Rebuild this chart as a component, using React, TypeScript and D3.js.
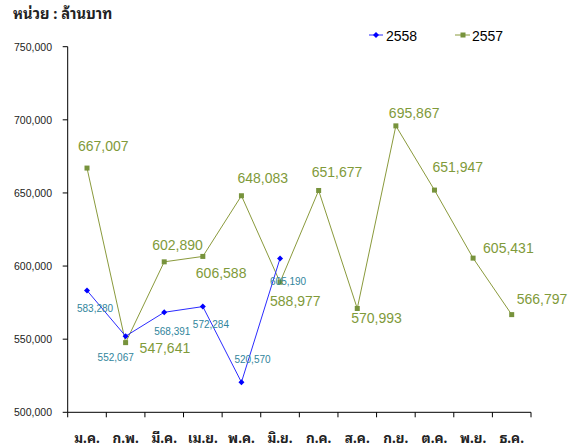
import React from "react";
import * as d3 from "d3";

const months = ["ม.ค.", "ก.พ.", "มี.ค.", "เม.ย.", "พ.ค.", "มิ.ย.", "ก.ค.", "ส.ค.", "ก.ย.", "ต.ค.", "พ.ย.", "ธ.ค."];
const values2558 = [583280, 552067, 568391, 572284, 520570, 605190];
const values2557 = [667007, 547641, 602890, 606588, 648083, 588977, 651677, 570993, 695867, 651947, 605431, 566797];
const yTicks = [500000, 550000, 600000, 650000, 700000, 750000];
const title = "หน่วย : ล้านบาท";
const seriesNames = ["2558", "2557"];

// label offsets (dx, dy) relative to each marker
const off2557: [number, number][] = [[-9, -17], [14, 10], [-12, -12], [-7, 22], [-4, -13], [-10, 24], [-7, -13], [-6, 15], [-7, -8], [-2, -18], [10, -5], [5, -11]];
const off2558: [number, number][] = [[-10, 21], [-28, 25], [-10, 23], [-10, 21], [-7, -19], [-10, 27]];

const W = 575, H = 448;
const x0 = 67.7, x1 = 531, yTop = 46.7, yBot = 412.3;
const blue = "#2b2bff";
const olive = "#8a9a3c";
const oliveMark = "#77933c";
const oliveText = "#7f9a3a";
const teal = "#31859c";
const font = "'Liberation Sans', Arial, sans-serif";
const thaiFont = "Tahoma, 'Noto Sans Thai Looped', 'Noto Sans Thai', 'Noto Sans', 'DejaVu Sans', sans-serif";
const fmt = d3.format(",");

export default function App() {
  const x = d3.scaleBand<string>().domain(months).range([x0, x1]).padding(0);
  const y = d3.scaleLinear().domain([500000, 750000]).range([yBot, yTop]);
  const cx = (i: number) => (x(months[i]) as number) + x.bandwidth() / 2;
  const line = d3.line<number>().x((_, i) => cx(i)).y((d) => y(d));
  const diamond = (px: number, py: number, r = 3) => `M${px},${py - r}L${px + r},${py}L${px},${py + r}L${px - r},${py}Z`;
  const bounds = [...months.map((m) => x(m) as number), x1];

  return (
    <svg width={W} height={H} style={{ position: "absolute", left: 0, top: 0, background: "#fff" }}>
      <text x={13} y={19} fontFamily={thaiFont} fontWeight="bold" fontSize={14.7} fill="#222">{title}</text>
      {/* y axis */}
      <line x1={x0} x2={x0} y1={yTop} y2={yBot} stroke="#000" strokeWidth={1} />
      {yTicks.map((t) => (
        <g key={t}>
          <line x1={x0 - 5} x2={x0} y1={y(t)} y2={y(t)} stroke="#000" />
          <text x={52} y={y(t) + 4} textAnchor="end" fontFamily={font} fontSize={10.5} fill="#222">{fmt(t)}</text>
        </g>
      ))}
      {/* x axis */}
      <line x1={x0} x2={x1} y1={yBot} y2={yBot} stroke="#000" />
      {bounds.map((b, i) => (
        <line key={i} x1={b} x2={b} y1={yBot} y2={yBot + 5} stroke="#000" />
      ))}
      {months.map((m, i) => (
        <text key={m} x={cx(i)} y={443} textAnchor="middle" fontFamily={thaiFont} fontWeight="bold" fontSize={13.5} fill="#222">{m}</text>
      ))}
      {/* 2557 series */}
      <path d={line(values2557) || ""} fill="none" stroke={olive} strokeWidth={1} />
      {values2557.map((v, i) => (
        <rect key={i} x={cx(i) - 2.5} y={y(v) - 2.5} width={5} height={5} fill={oliveMark} />
      ))}
      {/* 2558 series */}
      <path d={line(values2558) || ""} fill="none" stroke={blue} strokeWidth={1} />
      {values2558.map((v, i) => (
        <path key={i} d={diamond(cx(i), y(v))} fill="#0000ff" />
      ))}
      {/* labels 2557 */}
      {values2557.map((v, i) => (
        <text key={i} x={cx(i) + off2557[i][0]} y={y(v) + off2557[i][1]} fontFamily={font} fontSize={14} fill={oliveText}>{fmt(v)}</text>
      ))}
      {/* labels 2558 */}
      {values2558.map((v, i) => (
        <text key={i} x={cx(i) + off2558[i][0]} y={y(v) + off2558[i][1]} fontFamily={font} fontSize={10} fill={teal}>{fmt(v)}</text>
      ))}
      {/* legend */}
      <line x1={369} x2={383} y1={35} y2={35} stroke={blue} />
      <path d={diamond(376, 35)} fill="#0000ff" />
      <text x={386} y={41} fontFamily={font} fontSize={14} fill="#000">{seriesNames[0]}</text>
      <line x1={455} x2={470} y1={35} y2={35} stroke={olive} />
      <rect x={460.5} y={32.5} width={5} height={5} fill={oliveMark} />
      <text x={472} y={41} fontFamily={font} fontSize={14} fill="#000">{seriesNames[1]}</text>
    </svg>
  );
}
